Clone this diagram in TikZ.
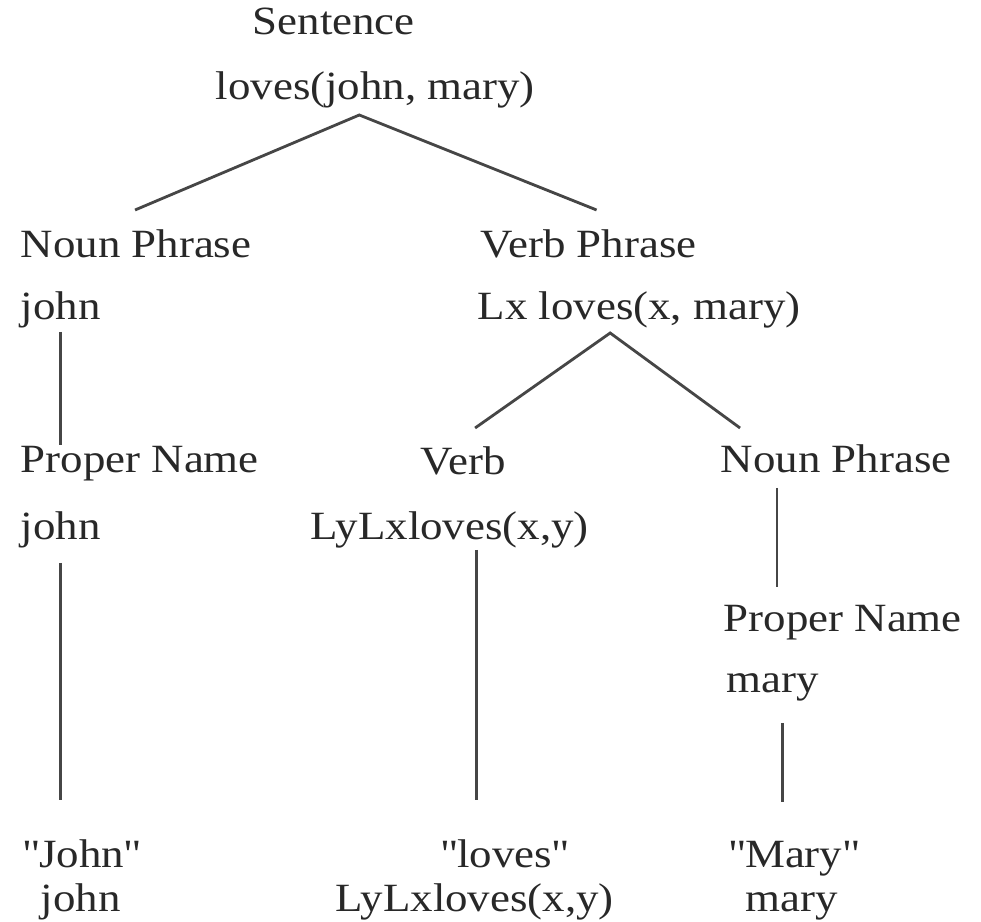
\documentclass[tikz,border=0pt]{standalone}
\usepackage{fontspec}
\setmainfont[FakeStretch=1.12]{Liberation Serif}
\usetikzlibrary{positioning,calc}
\definecolor{inkgray}{RGB}{40,40,40}
\definecolor{branchgray}{RGB}{70,70,70}
\tikzset{
  word/.style={anchor=base west, inner sep=0pt, text=inkgray, font=\fontsize{11.4}{14}\selectfont},
  branch/.style={draw=branchgray, line width=0.8pt}
}
\begin{document}
\begin{tikzpicture}[x=0.01cm, y=-0.01cm]
  \useasboundingbox (0,0) rectangle (981,922);
  % root
  \node[word] (sent) at (252,35) {Sentence};
  \node[word] (sentsem) at (215,100) {loves(john, mary)};
  % subject
  \node[word] (np) at (20,258) {Noun Phrase};
  \node[word] (npsem) at (20,320) {john};
  \node[word] (pn) at (20,473) {Proper Name};
  \node[word] (pnsem) at (20,540) {john};
  \node[word] (jlex) at (22,868) {\textquotedbl John\textquotedbl};
  \node[word] (jsem) at (40,912) {john};
  % predicate
  \node[word] (vp) at (480,258) {Verb Phrase};
  \node[word] (vpsem) at (477,320) {Lx loves(x, mary)};
  \node[word] (verb) at (420,475) {Verb};
  \node[word] (verbsem) at (310,540) {LyLxloves(x,y)};
  \node[word] (llex) at (440,868) {\textquotedbl loves\textquotedbl};
  \node[word] (lsem) at (335,912) {LyLxloves(x,y)};
  % object
  \node[word] (obj) at (720,473) {Noun Phrase};
  \node[word] (objpn) at (723,632) {Proper Name};
  \node[word] (objsem) at (726,693) {mary};
  \node[word] (mlex) at (728,868) {\textquotedbl Mary\textquotedbl};
  \node[word] (msem) at (745,912) {mary};

  % branches
  \draw[branch] ($(np.base)+(-1,-48)$) -- ($(sentsem.base)+(-16,15)$) -- ($(vp.base)+(8,-48)$);
  \draw[branch] ($(npsem.base)+(0,12)$) -- ($(npsem.base |- pn.base)+(0,-28)$);
  \draw[branch] ($(pnsem.base)+(0,23)$) -- ($(pnsem.base |- jlex.base)+(0,-68)$);
  \draw[branch] ($(verb.base)+(12,-47)$) -- ($(vpsem.base)+(-29,13)$) -- ($(obj.base)+(-96,-45)$);
  \draw[branch] ($(verbsem.base)+(27,10)$) -- ($(verbsem.base |- llex.base)+(27,-68)$);
  \draw[branch] ($(obj.base)+(-59,15)$) -- ($(obj.base |- objpn.base)+(-59,-45)$);
  \draw[branch] ($(objsem.base)+(10,30)$) -- ($(objsem.base |- mlex.base)+(10,-66)$);
\end{tikzpicture}
\end{document}
